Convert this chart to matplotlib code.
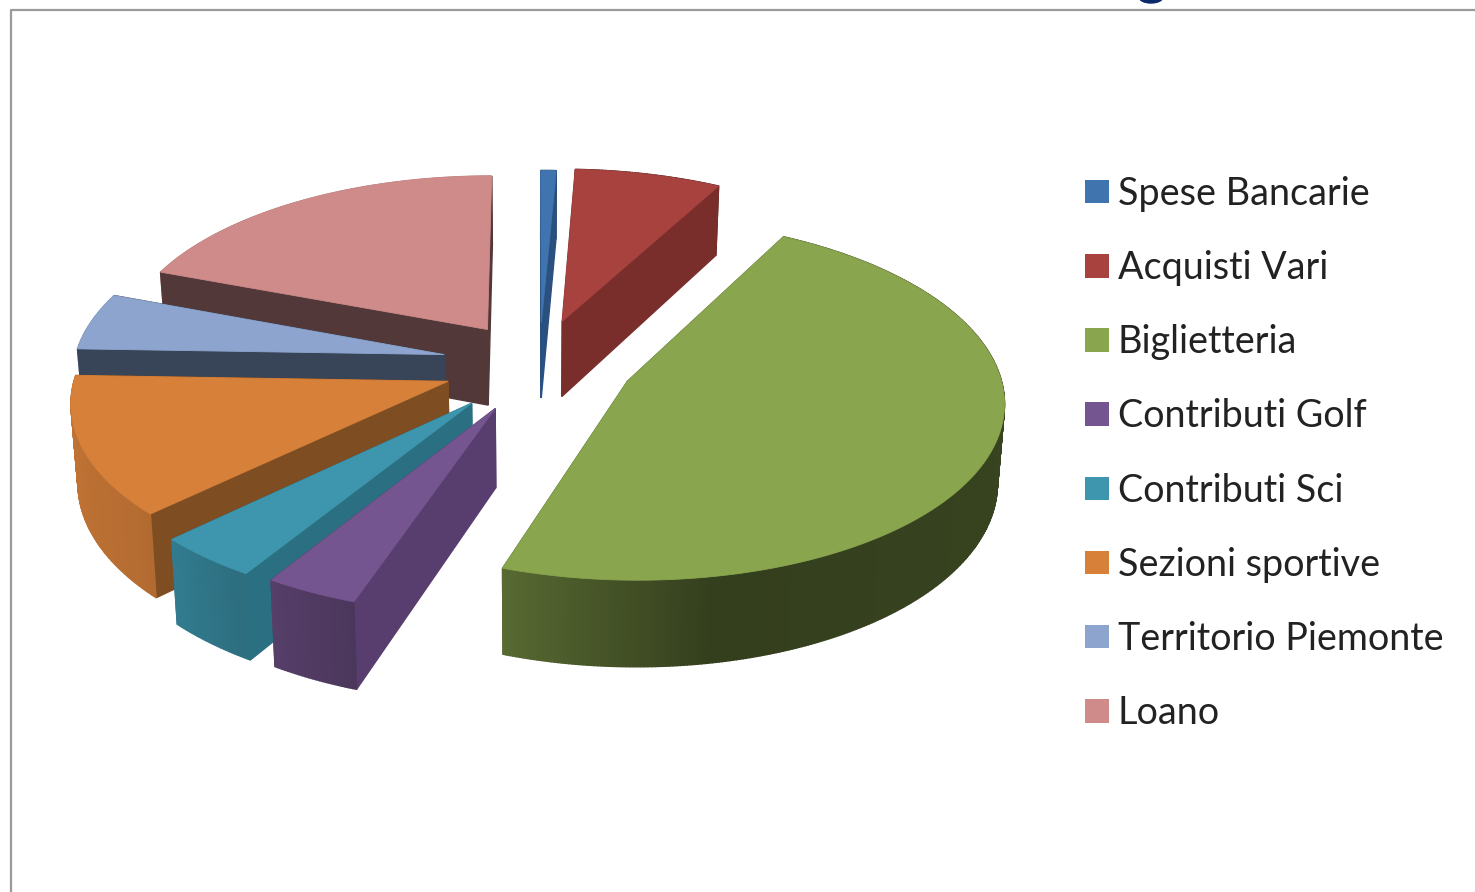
import numpy as np
import matplotlib
matplotlib.use("Agg")
import matplotlib.pyplot as plt
from matplotlib.patches import Patch, Ellipse

categories = ["Spese Bancarie", "Acquisti Vari", "Biglietteria", "Contributi Golf",
              "Contributi Sci", "Sezioni sportive", "Territorio Piemonte", "Loano"]
values = [0.75, 7.15, 47.38, 3.6, 4.0, 12.65, 5.2, 19.27]

explode = [0.23, 0.25, 0.27, 0.28, 0.285, 0.257, 0.25, 0.23]
explode_turn = [3, 2, 0, -3.5, -3.2, -4.3, -1.5, 0]
top_colors = ["#3F74AE", "#A8423F", "#89A54E", "#75558F", "#3D96AE", "#D6803A", "#8DA5CE", "#CE8B8A"]
cut_colors = ["#2A5080", "#7A2E2B", "#5A7030", "#583E6E", "#2A6F82", "#7E4D22", "#384457", "#533839"]
draw_order = [0, 7, 1, 6, 5, 4, 3, 2]

CX, CY, RX, RY, DEPTH, PERSP, TAPER = 535, 362, 370, 175, 77, 0.10, 0.985
SHADE_A = [0, 170, 200, 230, 260, 300, 360]
SHADE_F = [0.45, 0.38, 0.65, 0.85, 0.90, 0.9, 0.9]


def project(X, Y, z=0.0):
    w = 1 + PERSP * np.asarray(Y)
    scale = 1 + (TAPER - 1) * z
    return CX + scale * RX * np.asarray(X) / w, CY + (-RY * np.asarray(Y) + z * DEPTH) / w


fig = plt.figure(figsize=(14.75, 8.92), dpi=100)
ax = fig.add_axes([0, 0, 1, 1])
ax.set_xlim(0, 1475)
ax.set_ylim(892, 0)
ax.axis("off")

fractions = np.array(values) / np.sum(values)
edges = np.concatenate([[0], np.cumsum(fractions)]) * 360

for i in draw_order:
    a0, a1 = edges[i], edges[i + 1]
    mid = np.radians((a0 + a1) / 2 + explode_turn[i])
    ox, oy = explode[i] * np.sin(mid), explode[i] * np.cos(mid)
    ang = np.linspace(a0, a1, max(int(a1 - a0) * 2, 4))
    X = ox + np.sin(np.radians(ang))
    Y = oy + np.cos(np.radians(ang))
    rgb = np.array(matplotlib.colors.to_rgb(top_colors[i]))
    walls = []
    for (xe, ye) in [(X[0], Y[0]), (X[-1], Y[-1])]:
        xs = np.array([ox, xe])
        ys = np.array([oy, ye])
        walls.append(((ys.mean()), xs, ys, cut_colors[i]))
    for k in range(len(ang) - 1):
        f = np.interp((ang[k] + ang[k + 1]) / 2, SHADE_A, SHADE_F)
        walls.append((Y[k:k + 2].mean(), X[k:k + 2], Y[k:k + 2], tuple(rgb * f)))
    for _, xs, ys, col in sorted(walls, key=lambda t: -t[0]):
        px, py = project(xs, ys, 0)
        qx, qy = project(xs, ys, 1)
        ax.fill(np.r_[px, qx[::-1]], np.r_[py, qy[::-1]], color=col, lw=1.0, ec=col, zorder=1)
    tx, ty = project(np.r_[ox, X], np.r_[oy, Y])
    ax.fill(tx, ty, color=top_colors[i], lw=0.6, ec=top_colors[i], zorder=1)

ax.plot([10.5, 10.5, 1475], [892, 9.5, 9.5], color="#9A9A9A", lw=1.6, zorder=0)
ax.add_patch(Ellipse((1151, -3), 24, 12, color="#0B2A6B"))

handles = [Patch(facecolor=c, edgecolor="none") for c in top_colors]
leg = ax.legend(handles, categories, loc="upper left", bbox_to_anchor=(1085 / 1475, 1 - 176 / 892),
                frameon=False, prop={"family": "Lato", "size": 27.2}, labelspacing=1.01,
                handlelength=0.63, handleheight=0.58, handletextpad=0.24, borderpad=0, borderaxespad=0,
                labelcolor="#222222")

fig.savefig("out.png", dpi=100)
